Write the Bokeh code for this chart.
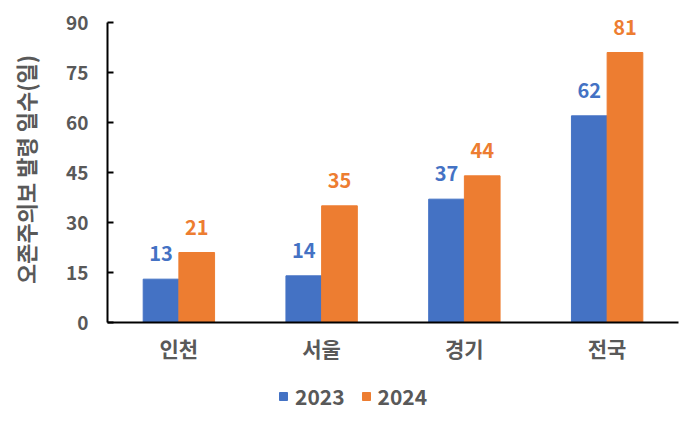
from bokeh.plotting import figure
from bokeh.layouts import column, row
from bokeh.models import (FactorRange, Range1d, FixedTicker, ColumnDataSource, Legend,
                          LegendItem, LabelSet, Label)
from bokeh.transform import dodge
from bokeh.core.properties import value
from bokeh.embed import file_html
from bokeh.resources import INLINE

categories = ["인천", "서울", "경기", "전국"]
series_names = ["2023", "2024"]
values_2023 = [13, 14, 37, 62]
values_2024 = [21, 35, 44, 81]
y_ticks = [0, 15, 30, 45, 60, 75, 90]
y_title = "오존주의보 발령 일수(일)"

FONT = "Noto Sans CJK KR"
GRAY = "#595959"
BLUE = "#4472C4"
ORANGE = "#ED7D31"

src = ColumnDataSource(dict(
    cat=categories,
    v23=values_2023,
    v24=values_2024,
    t23=[str(v) for v in values_2023],
    t24=[str(v) for v in values_2024],
))

# y-axis title strip
t = figure(x_range=Range1d(0, 45), y_range=Range1d(0, 368), width=45, height=368,
           output_backend="svg", toolbar_location=None, min_border=0)
t.axis.visible = False
t.grid.visible = False
t.outline_line_color = None
t.add_layout(Label(x=24, y=176, text=y_title, angle=90, angle_units="deg",
                   text_font=FONT, text_font_style="bold", text_font_size="22px",
                   text_color=GRAY, text_align="center", text_baseline="middle"))

p = figure(x_range=FactorRange(factors=categories, range_padding=0),
           y_range=Range1d(0, 96),
           width=639, height=368, output_backend="svg", toolbar_location=None,
           min_border_left=62, min_border_right=6, min_border_top=2, min_border_bottom=46)

r1 = p.vbar(x=dodge("cat", -0.125, range=p.x_range), top="v23", width=0.25, source=src,
            fill_color=BLUE, line_color=BLUE)
r2 = p.vbar(x=dodge("cat", 0.125, range=p.x_range), top="v24", width=0.25, source=src,
            fill_color=ORANGE, line_color=ORANGE)

for col, txt, off, color in [("v23", "t23", -0.125, BLUE), ("v24", "t24", 0.125, ORANGE)]:
    p.add_layout(LabelSet(x=dodge("cat", off, range=p.x_range), y=col, text=txt, source=src,
                          text_font=value(FONT), text_font_style="bold", text_font_size="20px",
                          text_color=color, text_align="center", text_baseline="bottom",
                          y_offset=18))

p.xgrid.visible = False
p.ygrid.visible = False
p.outline_line_color = None

p.yaxis.ticker = FixedTicker(ticks=y_ticks)
p.yaxis.bounds = (0, 90)
p.yaxis.minor_tick_line_color = None
p.yaxis.major_tick_in = 6
p.yaxis.major_tick_out = 0
p.yaxis.major_tick_line_color = "black"
p.yaxis.major_tick_line_width = 2
p.yaxis.axis_line_color = "black"
p.yaxis.axis_line_width = 2
p.yaxis.major_label_text_font = FONT
p.yaxis.major_label_text_font_style = "bold"
p.yaxis.major_label_text_font_size = "19px"
p.yaxis.major_label_text_color = GRAY
p.yaxis.major_label_standoff = 19

p.xaxis.major_tick_line_color = None
p.xaxis.minor_tick_line_color = None
p.xaxis.major_tick_out = 0
p.xaxis.major_tick_in = 0
p.xaxis.axis_line_color = "black"
p.xaxis.axis_line_width = 2
p.xaxis.major_label_text_font = FONT
p.xaxis.major_label_text_font_style = "bold"
p.xaxis.major_label_text_font_size = "21px"
p.xaxis.major_label_text_color = GRAY
p.xaxis.major_label_standoff = 10

# legend strip below the chart
q = figure(x_range=Range1d(0, 1), y_range=Range1d(0, 1), width=684, height=58,
           output_backend="svg", toolbar_location=None, min_border=0)
q.axis.visible = False
q.grid.visible = False
q.outline_line_color = None
e = ColumnDataSource(dict(x=[-5.0], top=[-5.0]))
g1 = q.vbar(x="x", top="top", width=0.1, source=e, fill_color=BLUE, line_color=BLUE)
g2 = q.vbar(x="x", top="top", width=0.1, source=e, fill_color=ORANGE, line_color=ORANGE)

legend = Legend(items=[LegendItem(label=series_names[0], renderers=[g1]),
                       LegendItem(label=series_names[1], renderers=[g2])],
                orientation="horizontal", location=(278, 15),
                glyph_width=10, glyph_height=10, label_standoff=7, spacing=16,
                label_text_font=FONT, label_text_font_style="bold",
                label_text_font_size="21px", label_text_color=GRAY,
                border_line_color=None, background_fill_alpha=0, margin=0, padding=0)
q.add_layout(legend, "center")

layout = column(row(t, p, spacing=0), q, spacing=0)
open("out.html", "w").write(file_html(layout, INLINE))
